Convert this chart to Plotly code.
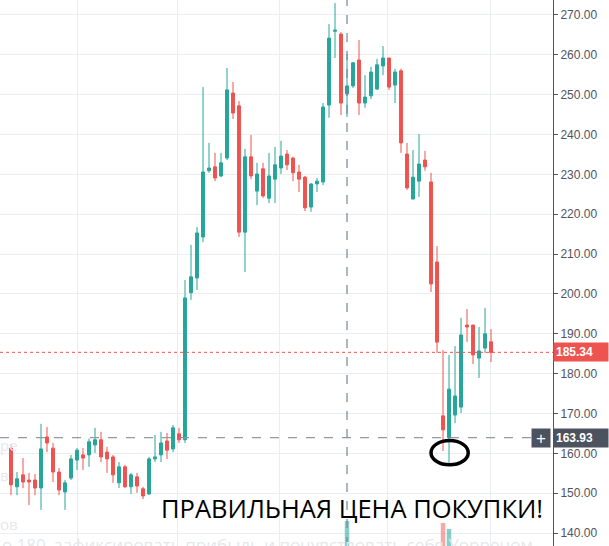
import plotly.graph_objects as go

# OHLC candles (index 0..80)
opens = [161.3, 151.6, 154.6, 153.3, 153.3, 151.3, 164.1, 161.3, 155.3, 150.3,
         153.8, 158.3, 159.6, 159.6, 162.1, 163.4, 160.3, 159.1, 152.6, 156.6,
         151.6, 154.1, 151.1, 149.8, 158.6, 159.6, 163.1, 161.1, 164.9, 163.4,
         200.3, 204.0, 214.3, 230.9, 231.9, 229.6, 234.1, 250.4, 247.2, 215.5,
         234.4, 225.8, 231.4, 224.0, 228.8, 231.6, 235.1, 234.1, 230.6, 229.3,
         221.8, 227.6, 228.1, 247.4, 265.9, 265.2, 250.2, 252.2, 258.7, 247.9,
         249.7, 251.4, 257.2, 259.2, 252.4, 256.0, 235.1, 223.8, 228.3, 233.6,
         228.1, 208.0, 169.4, 163.9, 169.6, 171.6, 192.2, 192.2, 183.9, 186.4,
         188.0]
highs = [162.3, 155.3, 158.8, 155.1, 154.8, 167.4, 166.6, 162.6, 156.3, 153.3,
         159.6, 161.3, 161.3, 163.7, 166.4, 165.4, 161.6, 159.6, 157.8, 157.1,
         155.1, 155.1, 151.6, 159.1, 164.6, 165.4, 165.1, 167.1, 166.4, 203.5,
         212.3, 216.8, 251.9, 237.9, 235.4, 235.4, 256.7, 253.2, 248.4, 236.4,
         239.9, 232.9, 232.9, 235.4, 236.9, 238.4, 236.1, 234.4, 232.4, 229.6,
         227.8, 229.1, 247.9, 267.7, 273.0, 265.7, 260.2, 258.2, 263.7, 254.9,
         257.0, 259.0, 262.2, 259.2, 256.5, 256.5, 237.9, 236.1, 240.1, 235.9,
         230.4, 212.0, 185.9, 184.7, 186.9, 194.0, 196.2, 192.2, 191.7, 196.5,
         191.2]
lows = [149.5, 149.5, 151.3, 147.0, 149.5, 145.8, 160.3, 152.8, 149.5, 145.8,
        153.3, 155.8, 155.8, 156.6, 160.1, 157.8, 155.1, 152.6, 151.3, 151.3,
        149.8, 150.1, 148.5, 149.5, 157.8, 157.8, 158.6, 160.3, 162.6, 162.6,
        198.5, 201.0, 213.0, 230.4, 228.3, 229.3, 233.6, 243.9, 214.3, 205.5,
        228.8, 222.3, 224.1, 222.8, 222.8, 230.1, 231.1, 228.3, 225.6, 220.8,
        220.6, 225.6, 227.3, 244.2, 259.2, 244.9, 244.4, 251.7, 244.9, 246.7,
        248.9, 251.2, 254.9, 251.2, 247.9, 235.4, 226.1, 223.8, 224.3, 230.9,
        200.5, 185.2, 160.6, 157.6, 167.6, 170.1, 187.9, 182.4, 178.9, 185.2,
        182.9]
closes = [152.1, 153.6, 152.8, 152.8, 151.3, 161.1, 162.6, 155.3, 150.8, 152.6,
          158.6, 160.8, 158.8, 162.9, 163.4, 159.1, 158.6, 154.6, 156.6, 151.6,
          154.6, 151.8, 149.3, 158.6, 159.1, 162.6, 160.8, 166.4, 163.4, 199.0,
          204.3, 215.3, 230.6, 231.6, 229.1, 232.9, 251.2, 245.4, 215.5, 234.4,
          229.6, 230.1, 224.6, 229.6, 232.4, 234.6, 232.4, 230.4, 228.8, 221.6,
          227.6, 228.3, 246.9, 264.2, 266.2, 247.9, 252.2, 258.0, 247.9, 249.4,
          255.7, 257.5, 259.2, 251.9, 255.7, 237.9, 226.6, 229.3, 232.6, 231.9,
          202.5, 187.9, 165.9, 176.1, 174.4, 189.7, 191.7, 184.7, 185.7, 190.0,
          185.34]

# visible volume bars (others hidden)
volumes = [None] * 81
volumes[56] = 25
volumes[72] = 23
volumes[73] = 17

last_price = 185.34
cross_price = 163.93
cross_index = 56
grid_x = [11.0, 27.83, 44.83, 62.83, 79.83]
y_ticks = [140, 150, 160, 170, 180, 190, 200, 210, 220, 230, 240, 250, 260, 270]
caption = "ПРАВИЛЬНАЯ ЦЕНА ПОКУПКИ!"
faint_text = "о 180, зафиксировать прибыль и почувствовать себя Уорреном"
faint_left = [("ре", 0.185), ("в", 0.13), ("ов", 0.04)]

UP = "#26a69a"
DOWN = "#ef5350"
xs = list(range(len(opens)))

fig = go.Figure()

vol_colors = [
    ("rgba(38,166,154,0.55)" if c >= o else "rgba(239,83,80,0.5)")
    for o, c in zip(opens, closes)
]
fig.add_trace(go.Bar(x=xs, y=volumes, marker_color=vol_colors, marker_line_width=0,
                     yaxis="y2", width=0.75, showlegend=False, hoverinfo="skip"))

fig.add_trace(go.Candlestick(
    x=xs, open=opens, high=highs, low=lows, close=closes,
    increasing=dict(line=dict(color=UP, width=1), fillcolor=UP),
    decreasing=dict(line=dict(color=DOWN, width=1), fillcolor=DOWN),
    whiskerwidth=0, showlegend=False,
))

# last price line and crosshair
fig.add_hline(y=last_price, line=dict(color=DOWN, width=1, dash="dot"))
fig.add_hline(y=cross_price, line=dict(color="#9598a1", width=1.2, dash="dash"))
fig.add_vline(x=cross_index, line=dict(color="#758696", width=1.2, dash="dash"))

# ellipse around the low after the peak
ipeak = max(range(len(highs)), key=lambda i: highs[i])
imin = min(range(ipeak, len(lows)), key=lambda i: lows[i])
fig.add_shape(type="circle", xref="x", yref="y",
              x0=imin - 3.0, x1=imin + 3.2,
              y0=lows[imin] - 0.5, y1=lows[imin] + 5.6,
              line=dict(color="black", width=3.5))

# price labels on the axis
fig.add_annotation(xref="paper", x=1.0, xanchor="left", yref="y", y=last_price,
                   text="<b>%.2f</b>" % last_price, showarrow=False,
                   font=dict(color="white", size=12, family="Liberation Sans"),
                   bgcolor=DOWN, borderpad=2, width=50, align="left")
fig.add_annotation(xref="paper", x=1.0, xanchor="left", yref="y", y=cross_price,
                   text="<b>%.2f</b>" % cross_price, showarrow=False,
                   font=dict(color="white", size=12, family="Liberation Sans"),
                   bgcolor="#4c525e", borderpad=2, width=50, align="left")
fig.add_annotation(xref="paper", x=0.9965, xanchor="right", yref="y", y=cross_price,
                   text="+", showarrow=False,
                   font=dict(color="white", size=17, family="Liberation Sans"),
                   bgcolor="#4c525e", borderpad=0, width=18, height=18)

# caption
fig.add_annotation(xref="paper", x=0.6365, yref="paper", y=0.0695,
                   xanchor="center", yanchor="middle", text=caption, showarrow=False,
                   font=dict(color="black", size=25.5, family="Open Sans"))
fig.add_annotation(xref="paper", x=0.0, xanchor="left", yref="paper", y=0.003,
                   yanchor="middle", text=faint_text, showarrow=False,
                   font=dict(color="#e4e7eb", size=17, family="Open Sans"))
for txt, yy in faint_left:
    fig.add_annotation(xref="paper", x=-0.003, xanchor="left", yref="paper", y=yy,
                       yanchor="middle", text=txt, showarrow=False,
                       font=dict(color="#e6e9ec", size=15, family="Open Sans"))

fig.update_layout(
    width=609, height=546,
    margin=dict(l=0, r=56, t=0, b=0),
    paper_bgcolor="white", plot_bgcolor="white",
    bargap=0.3,
    xaxis=dict(range=[-1.833, 90.33], tickvals=grid_x, showticklabels=False,
               showgrid=True, gridcolor="#e9eef2", zeroline=False,
               rangeslider=dict(visible=False), fixedrange=True),
    yaxis=dict(side="right", range=[136.74, 273.76], tickvals=y_ticks,
               tickformat=".2f", ticks="outside", ticklen=4, tickcolor="#50535e",
               showline=True, linecolor="#50535e", linewidth=1,
               showgrid=True, gridcolor="#e9eef2", zeroline=False,
               tickfont=dict(color="#50535e", size=12, family="Liberation Sans")),
    yaxis2=dict(overlaying="y", range=[0, 546], visible=False, fixedrange=True),
    hovermode=False,
)

fig.write_html("out.html", config={"displayModeBar": False},
               post_script="document.body.style.margin='0px';document.body.style.overflow='hidden';")
